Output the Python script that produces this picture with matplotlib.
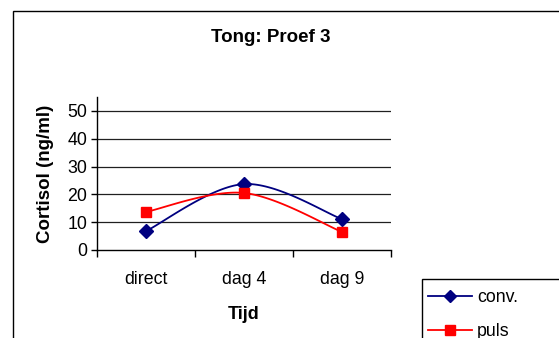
import matplotlib
matplotlib.use("Agg")
import matplotlib.pyplot as plt
from matplotlib.patches import Rectangle
from matplotlib.lines import Line2D
import numpy as np

plt.rcParams['font.family'] = ['Liberation Sans', 'DejaVu Sans']

# Meetwaarden cortisol per tijdstip
tijdstippen = ["direct", "dag 4", "dag 9"]
conv = [6.8, 23.7, 11.1]
puls = [13.7, 20.5, 6.5]


def glad(y, n=40):
    # vloeiende lijn door de punten (Catmull-Rom via Bezier-segmenten)
    x = np.arange(len(y), dtype=float)
    p = np.column_stack([x, np.asarray(y, dtype=float)])
    p_ext = np.vstack([p[0], p, p[-1]])
    xs, ys = [], []
    t = np.linspace(0, 1, n)[:, None]
    for i in range(len(p) - 1):
        p0, p1, p2, p3 = p_ext[i], p_ext[i + 1], p_ext[i + 2], p_ext[i + 3]
        c1 = p1 + (p2 - p0) / 6
        c2 = p2 - (p3 - p1) / 6
        b = ((1 - t) ** 3) * p1 + 3 * ((1 - t) ** 2) * t * c1 + 3 * (1 - t) * t ** 2 * c2 + t ** 3 * p2
        xs.append(b[:, 0])
        ys.append(b[:, 1])
    return np.concatenate(xs), np.concatenate(ys)


fig = plt.figure(figsize=(5.59, 3.38), dpi=100)
fig.patch.set_facecolor("white")

# rand van het grafiekgebied (loopt rechts en onder buiten beeld door)
fig.patches.append(Rectangle((13 / 559, -0.2), 1.5, 1 - 11 / 338 + 0.2,
                             transform=fig.transFigure, fill=False,
                             edgecolor="black", linewidth=1.0))

ax = fig.add_axes([97 / 559, 88 / 338, 294 / 559, 153 / 338])
x = np.arange(len(tijdstippen))

for waarden, kleur, marker, ms in [(conv, "#000080", "D", 7), (puls, "#FF0000", "s", 6.5)]:
    gx, gy = glad(waarden)
    ax.plot(gx, gy, color=kleur, linewidth=1.3, zorder=3)
    ax.plot(x, waarden, linestyle="none", marker=marker, markersize=ms,
            color=kleur, zorder=4)

ax.set_xlim(-0.5, 2.5)
ax.set_ylim(0, 55)
ax.set_yticks([0, 10, 20, 30, 40, 50])
ax.set_xticks(x)
ax.set_xticklabels(tijdstippen)
ax.set_xticks([-0.5, 0.5, 1.5, 2.5], minor=True)
ax.tick_params(axis="x", which="major", length=0, pad=15, labelsize=12.8)
ax.tick_params(axis="x", which="minor", length=5, width=1, direction="out")
ax.tick_params(axis="y", length=4, width=1, direction="out", labelsize=12.8, pad=3)

for yv in [10, 20, 30, 40, 50]:
    ax.axhline(yv, color="#202020", linewidth=0.9, zorder=1)

for s in ["top", "right"]:
    ax.spines[s].set_visible(False)
ax.spines["left"].set_linewidth(1)
ax.spines["bottom"].set_linewidth(1)

ax.set_xlabel("Tijd", fontsize=13, fontweight="bold", labelpad=13)
ax.set_ylabel("Cortisol (ng/ml)", fontsize=13.5, fontweight="bold", labelpad=10)
fig.text(271 / 559, 1 - 38 / 338, "Tong: Proef 3", ha="center", va="center",
         fontsize=13.5, fontweight="bold")

# legenda: kader loopt buiten beeld door
fig.patches.append(Rectangle((422 / 559, -0.2), 0.5, 0.2 + 1 - 279 / 338,
                             transform=fig.transFigure, fill=False,
                             edgecolor="black", linewidth=1.0))
handles = [
    Line2D([], [], color="#000080", marker="D", markersize=6.5, linewidth=1.3),
    Line2D([], [], color="#FF0000", marker="s", markersize=6.5, linewidth=1.3),
]
fig.legend(handles, ["conv.", "puls"], loc="upper left",
           bbox_to_anchor=(428 / 559, 1 - 289 / 338), fontsize=12.8,
           frameon=False, borderpad=0, handlelength=2.45, handletextpad=0.3,
           labelspacing=0.95, borderaxespad=0)

fig.savefig("out.png", dpi=100)
